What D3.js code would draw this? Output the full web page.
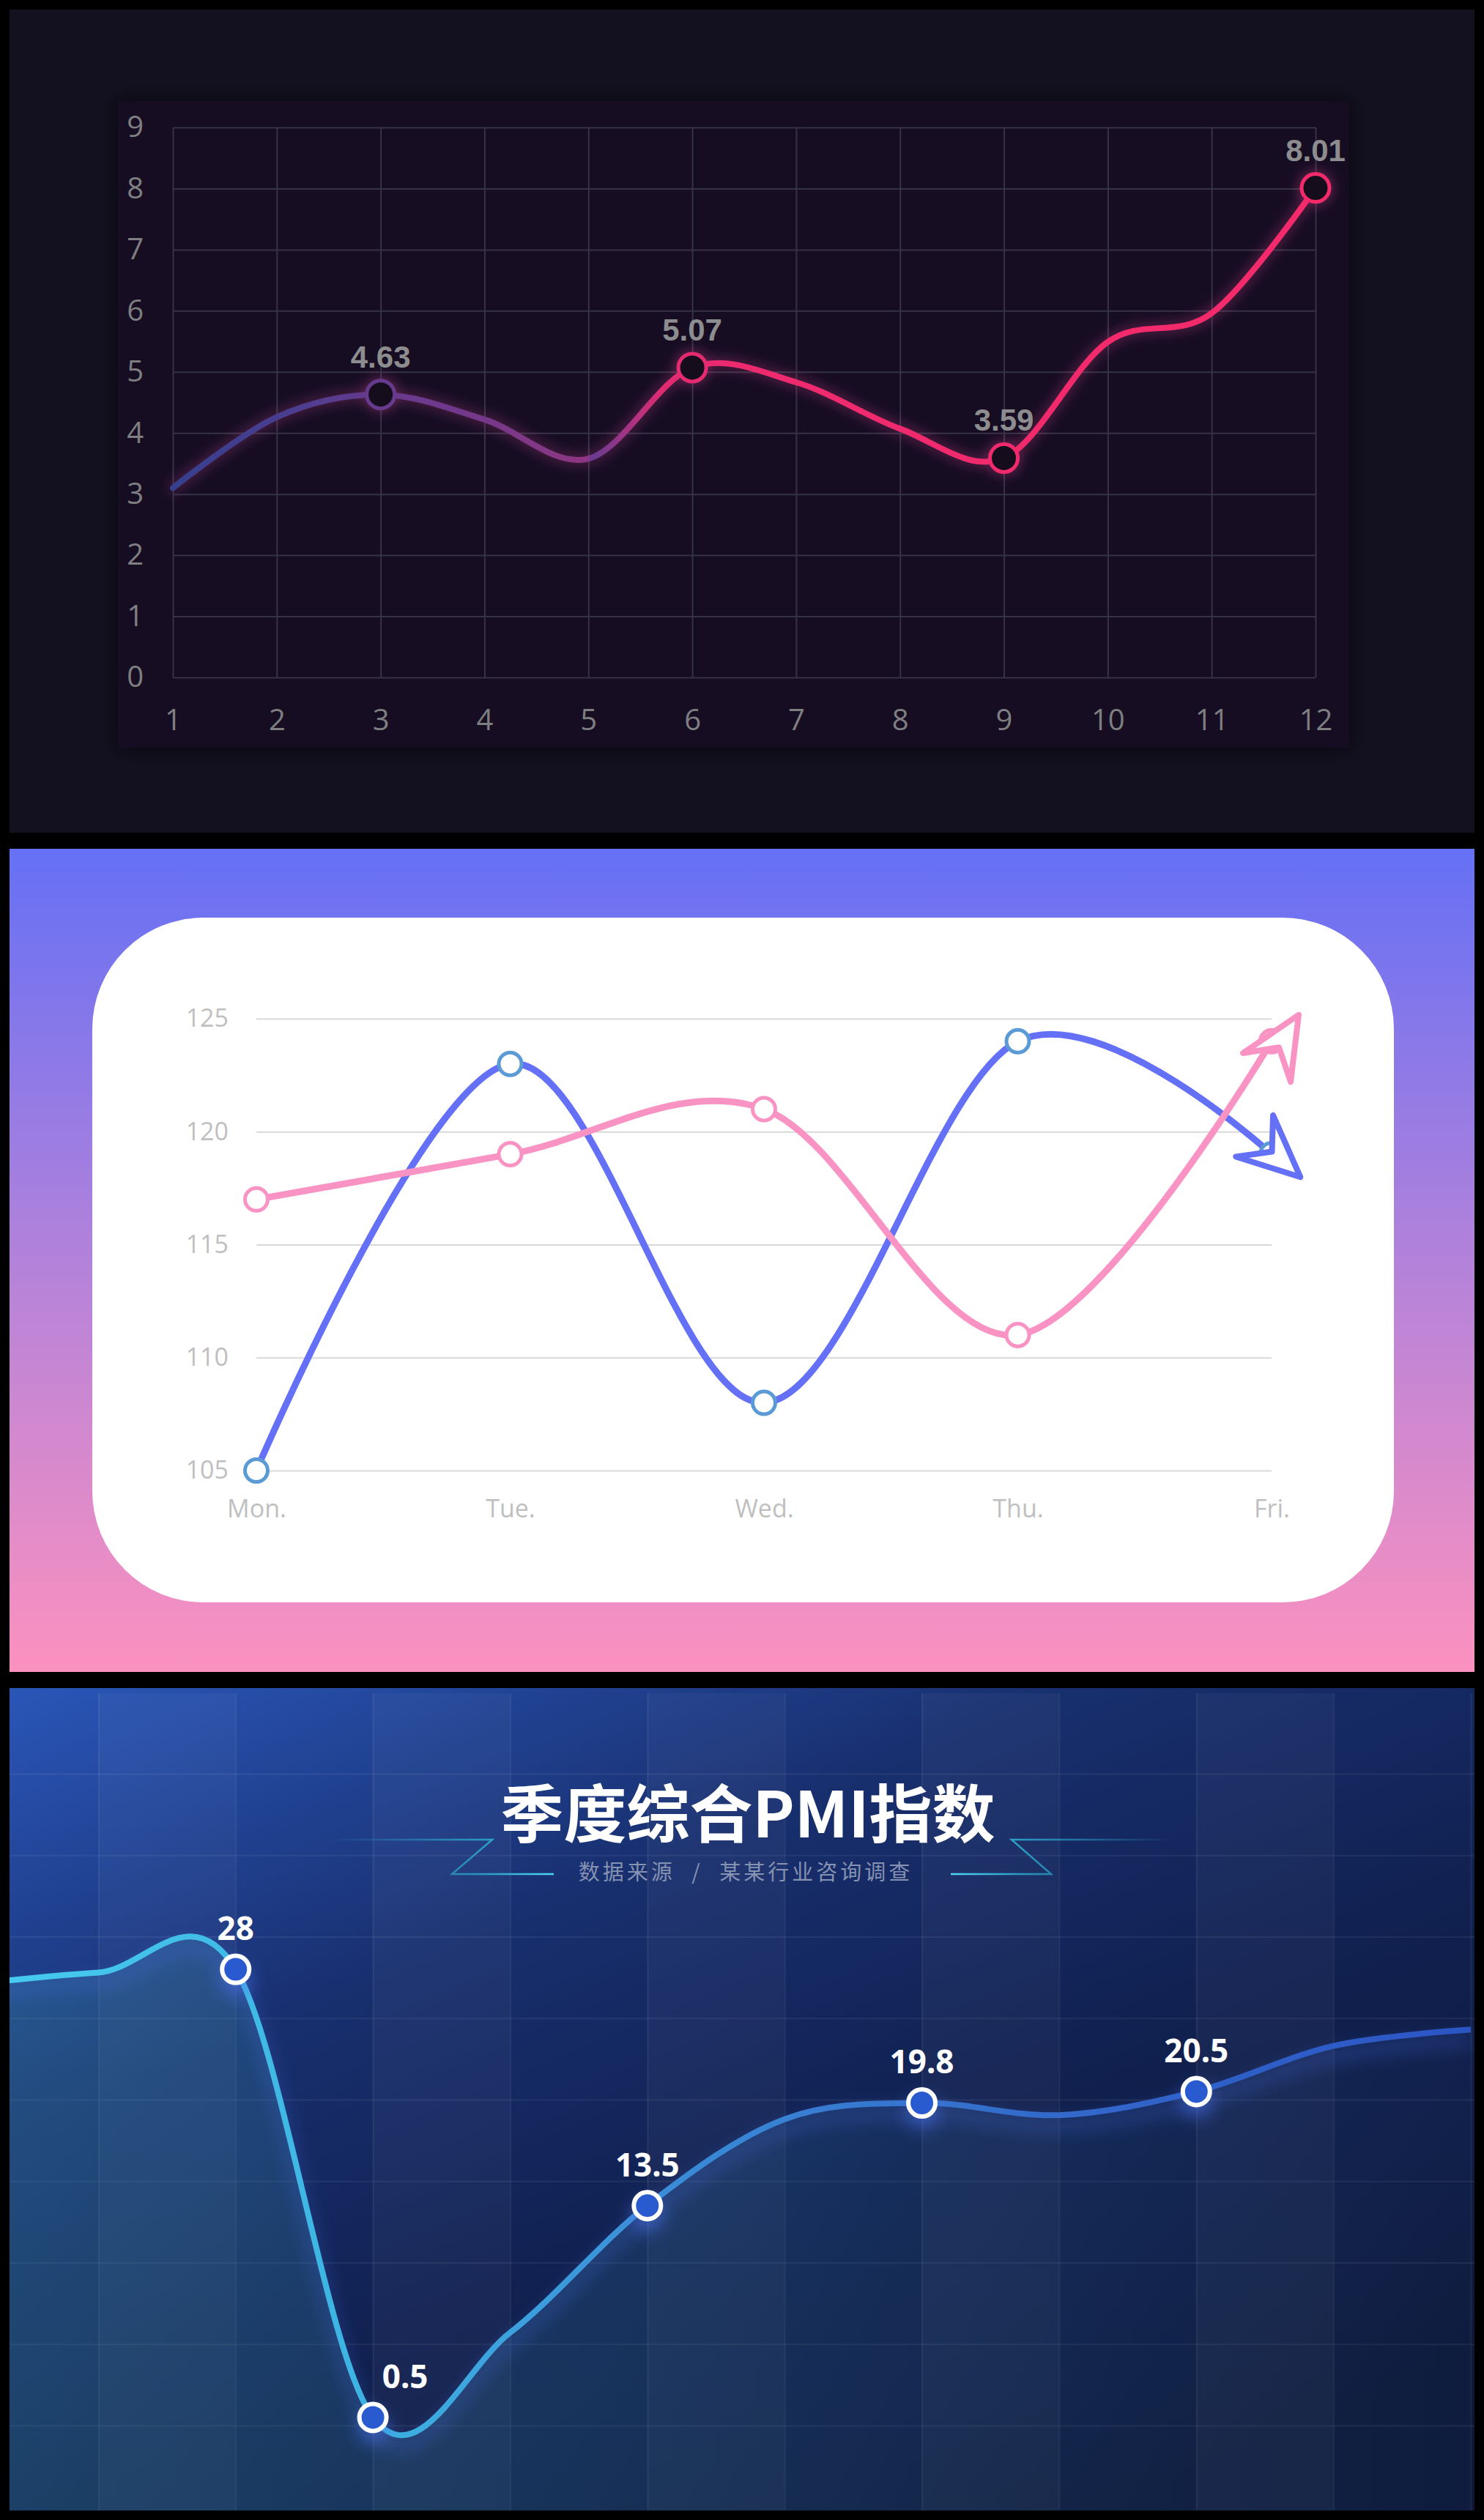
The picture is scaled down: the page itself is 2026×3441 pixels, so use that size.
<!DOCTYPE html>
<html><head><meta charset="utf-8">
<script src="https://cdn.jsdelivr.net/npm/d3@7"></script>
<style>html,body{margin:0;padding:0;background:#000;}svg{display:block}</style>
</head><body>
<svg id="c" width="2026" height="3441"></svg>
<script>
// ================= DATA =================
// Panel 1 – monthly values
const monthCats = [1,2,3,4,5,6,7,8,9,10,11,12];
const monthValues = [3.1,4.26,4.63,4.22,3.58,5.07,4.83,4.07,3.59,5.49,5.96,8.01];
const monthLabeled = [3,6,9,12];
const monthYTicks = [0,1,2,3,4,5,6,7,8,9];

// Panel 2 – two weekday series
const dayCats = ["Mon.","Tue.","Wed.","Thu.","Fri."];
const blueValues = [105,123,108,124,119];
const pinkValues = [117,119,121,111,124];
const dayYTicks = [105,110,115,120,125];

// Panel 3 – PMI
const pmiCats = ["c1","c2","c3","c4","c5","c6","c7","c8","c9","c10","c11","c12"];
const pmiValues = [27.0,27.8,28,0.5,5.7,13.5,18.8,19.8,19.05,20.5,23.3,24.3];
const pmiLabeled = [false,false,true,true,false,true,false,true,false,true,false,false];
const pmiGridTicks = [0,5,10,15,20,25,30,35,40];
const pmiTitle = "季度综合PMI指数";
const pmiSubtitle = "数据来源 / 某某行业咨询调查";

// ================= SETUP =================
const svg = d3.select("#c");
const defs = svg.append("defs");
svg.append("rect").attr("width",2026).attr("height",3441).attr("fill","#000");
const smooth = d3.curveCardinal.tension(0);

function linGrad(id, x1, y1, x2, y2, stops, units){
  const g = defs.append("linearGradient").attr("id",id)
    .attr("x1",x1).attr("y1",y1).attr("x2",x2).attr("y2",y2);
  if (units) g.attr("gradientUnits",units);
  stops.forEach(s => g.append("stop").attr("offset",s[0]).attr("stop-color",s[1]).attr("stop-opacity",s[2]===undefined?1:s[2]));
  return g;
}

// ================= PANEL 1 =================
const P1 = {x:13,y:13,w:2000,h:1124};
const g1 = svg.append("g");
g1.append("rect").attr("x",P1.x).attr("y",P1.y).attr("width",P1.w).attr("height",P1.h).attr("fill","#13101f");
defs.append("filter").attr("id","boxShadow").attr("x","-5%").attr("y","-5%").attr("width","110%").attr("height","110%")
  .append("feDropShadow").attr("dx",0).attr("dy",0).attr("stdDeviation",12)
  .attr("flood-color","#05040a").attr("flood-opacity",0.6);
g1.append("rect").attr("x",161).attr("y",138).attr("width",1681).attr("height",883)
  .attr("fill","#141122").attr("filter","url(#boxShadow)");

const x1 = d3.scaleLinear().domain([1,12]).range([236,1796]);
const y1 = d3.scaleLinear().domain([0,9]).range([925,174]);

const ax1y = g1.append("g").attr("transform",`translate(${x1(1)},0)`)
  .call(d3.axisLeft(y1).tickValues(monthYTicks).tickSize(-(x1(12)-x1(1))).tickPadding(40));
const ax1x = g1.append("g").attr("transform",`translate(0,${y1(0)})`)
  .call(d3.axisBottom(x1).tickValues(monthCats).tickSize(-(y1(0)-y1(9))).tickPadding(44).tickFormat(d3.format("d")));
[ax1y, ax1x].forEach(a => {
  a.select(".domain").remove();
  a.selectAll("line").attr("stroke","#363345").attr("stroke-width",2);
  a.selectAll("text").attr("fill","#7f7f82").attr("font-family","'Open Sans', sans-serif").attr("font-size",40);
});

const c1Stops = [[0,"#353f8e"],[0.09,"#473e90"],[0.18,"#663a8e"],[0.27,"#75398a"],[0.362,"#8e3683"],[0.368,"#683b93"],[0.43,"#e22b70"],[0.5,"#ee2a6e"],[1,"#f52a6b"]];
linGrad("line1Grad", x1(1), 0, x1(12), 0, c1Stops, "userSpaceOnUse");
const c1Color = d3.scaleLinear().domain(c1Stops.map(s=>s[0])).range(c1Stops.map(s=>s[1]));

const glow1 = defs.append("filter").attr("id","glow1").attr("filterUnits","userSpaceOnUse")
  .attr("x",P1.x).attr("y",P1.y).attr("width",P1.w).attr("height",P1.h);
glow1.append("feGaussianBlur").attr("in","SourceGraphic").attr("stdDeviation",9).attr("result","b");
glow1.append("feColorMatrix").attr("in","b").attr("type","matrix")
  .attr("values","0.3 0 0 0 0.55  0 0.3 0 0 0.05  0 0 0.3 0 0.25  0 0 0 0.55 0").attr("result","b2");
const gm1 = glow1.append("feMerge");
gm1.append("feMergeNode").attr("in","b2");
gm1.append("feMergeNode").attr("in","SourceGraphic");

const monthData = monthCats.map((c,i)=>({c, v:monthValues[i]}));
const line1 = d3.line().x(d=>x1(d.c)).y(d=>y1(d.v)).curve(smooth);
const lg1 = g1.append("g").attr("filter","url(#glow1)");
lg1.append("path").datum(monthData).attr("d",line1).attr("fill","none")
  .attr("stroke","url(#line1Grad)").attr("stroke-width",8).attr("stroke-linecap","round");
const lab1 = monthData.filter(d=>monthLabeled.includes(d.c));
lg1.selectAll("circle.m").data(lab1).join("circle").attr("class","m")
  .attr("cx",d=>x1(d.c)).attr("cy",d=>y1(d.v)).attr("r",19)
  .attr("fill","#14101f").attr("stroke",d=>c1Color((d.c-1)/11)).attr("stroke-width",5);
g1.selectAll("text.v").data(lab1).join("text").attr("class","v")
  .attr("x",d=>x1(d.c)).attr("y",d=>y1(d.v)-37).attr("text-anchor","middle")
  .attr("font-family","'Liberation Sans', Arial, sans-serif").attr("font-weight","bold").attr("font-size",42)
  .attr("fill","#8d8d8f").text(d=>d3.format(".2f")(d.v));

// ================= PANEL 2 =================
const P2 = {x:13,y:1159,w:2000,h:1124};
const g2 = svg.append("g");
linGrad("bg2", 0, 0, 0, 1, [[0,"#6570f5"],[0.5,"#b382da"],[1,"#fc91bf"]]);
g2.append("rect").attr("x",P2.x).attr("y",P2.y).attr("width",P2.w).attr("height",P2.h).attr("fill","url(#bg2)");
g2.append("rect").attr("x",126).attr("y",1253).attr("width",1777).attr("height",935).attr("rx",152).attr("ry",152).attr("fill","#fff");

const x2 = d3.scalePoint().domain(dayCats).range([350,1736]);
const y2 = d3.scaleLinear().domain([105,125]).range([2008,1391]);
const ax2y = g2.append("g").attr("transform",`translate(${x2(dayCats[0])},0)`)
  .call(d3.axisLeft(y2).tickValues(dayYTicks).tickSize(-(x2(dayCats[4])-x2(dayCats[0]))).tickPadding(38));
const ax2x = g2.append("g").attr("transform",`translate(0,${y2(105)})`)
  .call(d3.axisBottom(x2).tickSize(0).tickPadding(40));
[ax2y, ax2x].forEach(a => {
  a.select(".domain").remove();
  a.selectAll("line").attr("stroke","#d9d9d9").attr("stroke-width",2);
  a.selectAll("text").attr("fill","#bfbfbf").attr("font-family","'Open Sans', sans-serif").attr("font-size",34);
});

const series2 = [
  {name:"blue", values:blueValues, line:"#6470f5", marker:"#5b9bd5", arrowShift:-3},
  {name:"pink", values:pinkValues, line:"#f993c4", marker:"#f993c4", arrowShift:13}
];
const line2 = d3.line().x(d=>x2(d.c)).y(d=>y2(d.v)).curve(smooth);
series2.forEach(s => {
  s.data = dayCats.map((c,i)=>({c, v:s.values[i]}));
  s.path = g2.append("path").datum(s.data).attr("d",line2).attr("fill","none")
    .attr("stroke",s.line).attr("stroke-width",9).attr("stroke-linecap","round");
});
series2.forEach(s => {
  g2.append("g").selectAll("circle").data(s.data).join("circle")
    .attr("cx",d=>x2(d.c)).attr("cy",d=>y2(d.v)).attr("r",15.5)
    .attr("fill","#fff").attr("stroke",s.marker).attr("stroke-width",5);
});
// arrow heads following the curve's end tangent
series2.forEach(s => {
  const node = s.path.node();
  const L = node.getTotalLength();
  const pEnd = node.getPointAtLength(L), pPrev = node.getPointAtLength(L-4);
  let dx = pEnd.x - pPrev.x, dy = pEnd.y - pPrev.y; const len = Math.hypot(dx,dy); dx/=len; dy/=len;
  const nx = -dy, ny = dx;
  const last = s.data[s.data.length-1];
  const mx = x2(last.c), my = y2(last.v);
  const pt = (u,v) => [mx + u*dx + (v + s.arrowShift)*nx, my + u*dy + (v + s.arrowShift)*ny];
  const p = d3.path();
  const tip = pt(50,0), wA = pt(-34,-38), notch = pt(-2,0), wB = pt(-34,38);
  p.moveTo(...tip); p.lineTo(...wA); p.lineTo(...notch); p.lineTo(...wB); p.closePath();
  g2.append("path").attr("d",p.toString()).attr("fill","#fff").attr("stroke",s.line)
    .attr("stroke-width",8).attr("stroke-linejoin","round");
});

// ================= PANEL 3 =================
const P3 = {x:13,y:2305,w:2000,h:1123};
const g3 = svg.append("g");
defs.append("clipPath").attr("id","clip3").append("rect").attr("x",P3.x).attr("y",P3.y).attr("width",P3.w).attr("height",P3.h);
g3.attr("clip-path","url(#clip3)");
linGrad("bg3", 0, 0, 0.75, 1, [[0,"#2a56b8"],[0.35,"#182f6e"],[0.65,"#10204f"],[1,"#0d1838"]]);
g3.append("rect").attr("x",P3.x).attr("y",P3.y).attr("width",P3.w).attr("height",P3.h).attr("fill","url(#bg3)");

const x3 = d3.scalePoint().domain(pmiCats).range([-53,2008]);
const y3 = d3.scaleLinear().domain([0,40]).range([3312,2422]);
const stripeTop = 2312, bottom3 = P3.y + P3.h;

// alternating split areas
const stripes = pmiCats.map((c,i)=>i).filter(i => i%2===1 && i+1 < pmiCats.length);
g3.append("g").selectAll("rect").data(stripes).join("rect")
  .attr("x",i=>x3(pmiCats[i])).attr("width",i=>x3(pmiCats[i+1])-x3(pmiCats[i]))
  .attr("y",stripeTop).attr("height",bottom3-stripeTop).attr("fill","#ffffff").attr("fill-opacity",0.035);

// grid via axes
const ax3y = g3.append("g").attr("transform",`translate(${P3.x},0)`)
  .call(d3.axisLeft(y3).tickValues(pmiGridTicks).tickSize(-P3.w).tickFormat(""));
const ax3x = g3.append("g").attr("transform",`translate(0,${bottom3})`)
  .call(d3.axisBottom(x3).tickSize(-(bottom3-stripeTop)).tickFormat(""));
[ax3y, ax3x].forEach(a => {
  a.select(".domain").remove();
  a.selectAll("line").attr("stroke","#ffffff").attr("stroke-opacity",0.065).attr("stroke-width",2);
});

const pmiData = pmiCats.map((c,i)=>({c, v:pmiValues[i], lab:pmiLabeled[i], i}));
linGrad("area3Grad", P3.x, 0, P3.x+P3.w, 0,
  [[0,"rgb(60,150,165)",0.27],[0.45,"rgb(60,140,175)",0.17],[1,"rgb(60,120,200)",0.04]], "userSpaceOnUse");
const area3 = d3.area().x(d=>x3(d.c)).y0(bottom3).y1(d=>y3(d.v)).curve(smooth);
g3.append("path").datum(pmiData).attr("d",area3).attr("fill","url(#area3Grad)");

const glow3 = defs.append("filter").attr("id","glow3").attr("filterUnits","userSpaceOnUse")
  .attr("x",P3.x).attr("y",P3.y).attr("width",P3.w).attr("height",P3.h);
glow3.append("feDropShadow").attr("dx",0).attr("dy",14).attr("stdDeviation",12)
  .attr("flood-color","#4d6ff0").attr("flood-opacity",0.55);

linGrad("line3Grad", P3.x, 0, P3.x+P3.w, 0,
  [[0,"#46caef"],[0.25,"#3db2e1"],[0.45,"#3a8cd7"],[0.62,"#3573ce"],[0.8,"#2f61c8"],[1,"#2c56c4"]], "userSpaceOnUse");
const line3 = d3.line().x(d=>x3(d.c)).y(d=>y3(d.v)).curve(smooth);
g3.append("path").datum(pmiData).attr("d",line3).attr("fill","none")
  .attr("stroke","url(#line3Grad)").attr("stroke-width",8).attr("filter","url(#glow3)");

const lab3 = pmiData.filter(d=>d.lab);
const mg3 = g3.append("g").attr("filter","url(#glow3)");
mg3.selectAll("circle").data(lab3).join("circle")
  .attr("cx",d=>x3(d.c)).attr("cy",d=>y3(d.v)).attr("r",18.5)
  .attr("fill","#2c5ad0").attr("stroke","#ffffff").attr("stroke-width",6);
const isMin = d => d.i>0 && d.i<pmiValues.length-1 && d.v < pmiValues[d.i-1] && d.v < pmiValues[d.i+1];
g3.selectAll("text.v").data(lab3).join("text").attr("class","v")
  .attr("x",d=>x3(d.c) + (isMin(d)?44:0)).attr("y",d=>y3(d.v)-40).attr("text-anchor","middle")
  .attr("font-family","'Noto Sans', 'Noto Sans CJK SC', sans-serif").attr("font-weight","bold").attr("font-size",44)
  .attr("fill","#ffffff").text(d=>d.v);

// title block
const tcx = 1021;
g3.append("text").attr("x",tcx).attr("y",2478).attr("dy","0.36em").attr("text-anchor","middle")
  .attr("font-family","'Noto Sans CJK SC', sans-serif").attr("font-weight",700).attr("font-size",86)
  .attr("fill","#ffffff").text(pmiTitle);
g3.append("text").attr("x",tcx-3).attr("y",2557).attr("dy","0.36em").attr("text-anchor","middle")
  .attr("font-family","'Noto Sans CJK SC', sans-serif").attr("font-size",29)
  .attr("letter-spacing",4).attr("word-spacing",12)
  .attr("fill","#8592b2").text(pmiSubtitle);

linGrad("decoL", tcx-569, 0, tcx-265, 0, [[0,"#2a9cc4",0],[0.7,"#2a9cc4",1],[1,"#4fd8f8",1]], "userSpaceOnUse");
linGrad("decoR", tcx+277, 0, tcx+580, 0, [[0,"#4fd8f8",1],[0.3,"#2a9cc4",1],[1,"#2a9cc4",0]], "userSpaceOnUse");
const dl = d3.path();
dl.moveTo(tcx-569,2512); dl.lineTo(tcx-349,2512); dl.lineTo(tcx-404,2559); dl.lineTo(tcx-265,2559);
g3.append("path").attr("d",dl.toString()).attr("fill","none").attr("stroke","url(#decoL)").attr("stroke-width",2.5);
const dr = d3.path();
dr.moveTo(tcx+277,2559); dr.lineTo(tcx+414,2559); dr.lineTo(tcx+360,2512); dr.lineTo(tcx+580,2512);
g3.append("path").attr("d",dr.toString()).attr("fill","none").attr("stroke","url(#decoR)").attr("stroke-width",2.5);
</script>
</body></html>
